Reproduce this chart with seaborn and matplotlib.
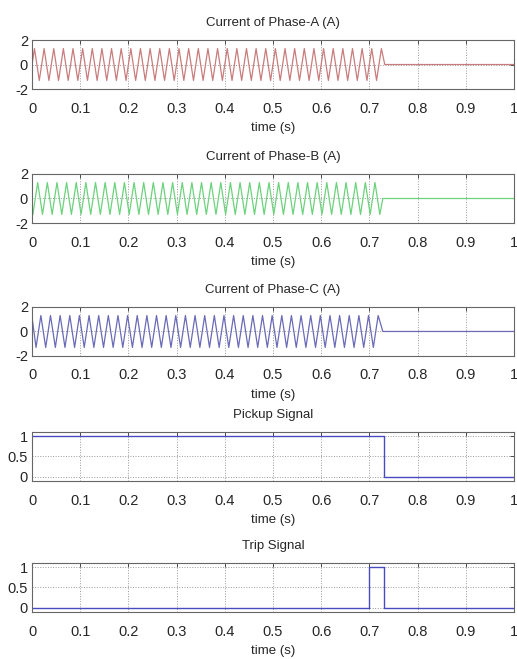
import seaborn as sns
import numpy as np
import matplotlib.pyplot as plt

# ---- data (times in ms, peak currents in A) ----
# phase currents: value at t=0, then every peak/trough, then the interruption
phase_a_ms = [0, 5, 15, 25, 35, 45, 55, 65, 75, 85, 95,
              105, 115, 125, 135, 145, 155, 165, 175, 185, 195,
              205, 215, 225, 235, 245, 255, 265, 275, 285, 295,
              305, 315, 325, 335, 345, 355, 365, 375, 385, 395,
              405, 415, 425, 435, 445, 455, 465, 475, 485, 495,
              505, 515, 525, 535, 545, 555, 565, 575, 585, 595,
              605, 615, 625, 635, 645, 655, 665, 675, 685, 695,
              705, 715, 725, 732, 1000]
phase_a = [0, 1.3, -1.3, 1.3, -1.3, 1.3, -1.3, 1.3, -1.3, 1.3, -1.3,
           1.3, -1.3, 1.3, -1.3, 1.3, -1.3, 1.3, -1.3, 1.3, -1.3,
           1.3, -1.3, 1.3, -1.3, 1.3, -1.3, 1.3, -1.3, 1.3, -1.3,
           1.3, -1.3, 1.3, -1.3, 1.3, -1.3, 1.3, -1.3, 1.3, -1.3,
           1.3, -1.3, 1.3, -1.3, 1.3, -1.3, 1.3, -1.3, 1.3, -1.3,
           1.3, -1.3, 1.3, -1.3, 1.3, -1.3, 1.3, -1.3, 1.3, -1.3,
           1.3, -1.3, 1.3, -1.3, 1.3, -1.3, 1.3, -1.3, 1.3, -1.3,
           1.3, -1.3, 1.3, 0, 0]

phase_b_ms = [0, 1.7, 11.7, 21.7, 31.7, 41.7, 51.7, 61.7, 71.7, 81.7, 91.7,
              101.7, 111.7, 121.7, 131.7, 141.7, 151.7, 161.7, 171.7, 181.7, 191.7,
              201.7, 211.7, 221.7, 231.7, 241.7, 251.7, 261.7, 271.7, 281.7, 291.7,
              301.7, 311.7, 321.7, 331.7, 341.7, 351.7, 361.7, 371.7, 381.7, 391.7,
              401.7, 411.7, 421.7, 431.7, 441.7, 451.7, 461.7, 471.7, 481.7, 491.7,
              501.7, 511.7, 521.7, 531.7, 541.7, 551.7, 561.7, 571.7, 581.7, 591.7,
              601.7, 611.7, 621.7, 631.7, 641.7, 651.7, 661.7, 671.7, 681.7, 691.7,
              701.7, 711.7, 721.7, 728, 1000]
phase_b = [-1.13, -1.3, 1.3, -1.3, 1.3, -1.3, 1.3, -1.3, 1.3, -1.3, 1.3,
           -1.3, 1.3, -1.3, 1.3, -1.3, 1.3, -1.3, 1.3, -1.3, 1.3,
           -1.3, 1.3, -1.3, 1.3, -1.3, 1.3, -1.3, 1.3, -1.3, 1.3,
           -1.3, 1.3, -1.3, 1.3, -1.3, 1.3, -1.3, 1.3, -1.3, 1.3,
           -1.3, 1.3, -1.3, 1.3, -1.3, 1.3, -1.3, 1.3, -1.3, 1.3,
           -1.3, 1.3, -1.3, 1.3, -1.3, 1.3, -1.3, 1.3, -1.3, 1.3,
           -1.3, 1.3, -1.3, 1.3, -1.3, 1.3, -1.3, 1.3, -1.3, 1.3,
           -1.3, 1.3, -1.3, 0, 0]

phase_c_ms = [0, 8.3, 18.3, 28.3, 38.3, 48.3, 58.3, 68.3, 78.3, 88.3, 98.3,
              108.3, 118.3, 128.3, 138.3, 148.3, 158.3, 168.3, 178.3, 188.3, 198.3,
              208.3, 218.3, 228.3, 238.3, 248.3, 258.3, 268.3, 278.3, 288.3, 298.3,
              308.3, 318.3, 328.3, 338.3, 348.3, 358.3, 368.3, 378.3, 388.3, 398.3,
              408.3, 418.3, 428.3, 438.3, 448.3, 458.3, 468.3, 478.3, 488.3, 498.3,
              508.3, 518.3, 528.3, 538.3, 548.3, 558.3, 568.3, 578.3, 588.3, 598.3,
              608.3, 618.3, 628.3, 638.3, 648.3, 658.3, 668.3, 678.3, 688.3, 698.3,
              708.3, 718.3, 728, 1000]
phase_c = [1.13, -1.3, 1.3, -1.3, 1.3, -1.3, 1.3, -1.3, 1.3, -1.3, 1.3,
           -1.3, 1.3, -1.3, 1.3, -1.3, 1.3, -1.3, 1.3, -1.3, 1.3,
           -1.3, 1.3, -1.3, 1.3, -1.3, 1.3, -1.3, 1.3, -1.3, 1.3,
           -1.3, 1.3, -1.3, 1.3, -1.3, 1.3, -1.3, 1.3, -1.3, 1.3,
           -1.3, 1.3, -1.3, 1.3, -1.3, 1.3, -1.3, 1.3, -1.3, 1.3,
           -1.3, 1.3, -1.3, 1.3, -1.3, 1.3, -1.3, 1.3, -1.3, 1.3,
           -1.3, 1.3, -1.3, 1.3, -1.3, 1.3, -1.3, 1.3, -1.3, 1.3,
           -1.3, 1.3, 0, 0]

# relay signals (step changes)
pickup_t = [0, 0.73, 1.0]
pickup = [1, 0, 0]
trip_t = [0, 0.70, 0.73, 1.0]
trip = [0, 1, 0, 0]

titles = ['Current of Phase-A (A)', 'Current of Phase-B (A)', 'Current of Phase-C (A)',
          'Pickup Signal', 'Trip Signal']
x_ticks = [0, 0.1, 0.2, 0.3, 0.4, 0.5, 0.6, 0.7, 0.8, 0.9, 1]
x_ticklabels = ['0', '0.1', '0.2', '0.3', '0.4', '0.5', '0.6', '0.7', '0.8', '0.9', '1']
current_ticks = [-2, 0, 2]
signal_ticks = [0, 0.5, 1]
signal_ticklabels = ['0', '0.5', '1']

sns.set_style('white')
plt.rcParams['font.family'] = ['Liberation Sans', 'DejaVu Sans']
plt.rcParams['axes.unicode_minus'] = False

fig = plt.figure(figsize=(5.17, 6.59), dpi=100)
left, width, height = 0.062, 0.932, 0.0744
bottoms = [0.8649, 0.6616, 0.4598, 0.2701, 0.0713]
axes = [fig.add_axes([left, b, width, height]) for b in bottoms]

series = [(np.array(phase_a_ms) / 1000.0, phase_a, '#c97c7c'),
          (np.array(phase_b_ms) / 1000.0, phase_b, '#6cd27c'),
          (np.array(phase_c_ms) / 1000.0, phase_c, '#6a6ab8')]

for ax, (t, y, col) in zip(axes[:3], series):
    sns.lineplot(x=t, y=y, ax=ax, color=col, linewidth=0.9, estimator=None)
    ax.set_ylim([-2, 2])
    ax.set_yticks(current_ticks)

sns.lineplot(x=pickup_t, y=pickup, ax=axes[3], color='#4a4ac0', linewidth=1.0,
             estimator=None, drawstyle='steps-post')
sns.lineplot(x=trip_t, y=trip, ax=axes[4], color='#4a4ac0', linewidth=1.0,
             estimator=None, drawstyle='steps-post')
for ax in axes[3:]:
    ax.set_ylim([-0.1, 1.1])
    ax.set_yticks(signal_ticks)
    ax.set_yticklabels(signal_ticklabels)

for ax, title in zip(axes, titles):
    ax.set_xlim([0, 1])
    ax.set_xticks(x_ticks)
    ax.set_xticklabels(x_ticklabels)
    ax.set_title(title, fontsize=9.5, pad=10)
    ax.set_xlabel('time (s)', fontsize=9.5, labelpad=5)
    ax.set_ylabel('')
    ax.tick_params(axis='both', which='major', direction='in', labelsize=10.5,
                   length=3, width=0.6, top=True, right=True, color='#333333')
    ax.tick_params(axis='x', pad=9)
    ax.tick_params(axis='y', pad=3)
    ax.grid(True, linestyle=':', linewidth=0.7, color='#999999')
    for sp in ax.spines.values():
        sp.set_color('#666666')
        sp.set_linewidth(0.8)

fig.savefig('out.png', dpi=100)
plt.close(fig)
